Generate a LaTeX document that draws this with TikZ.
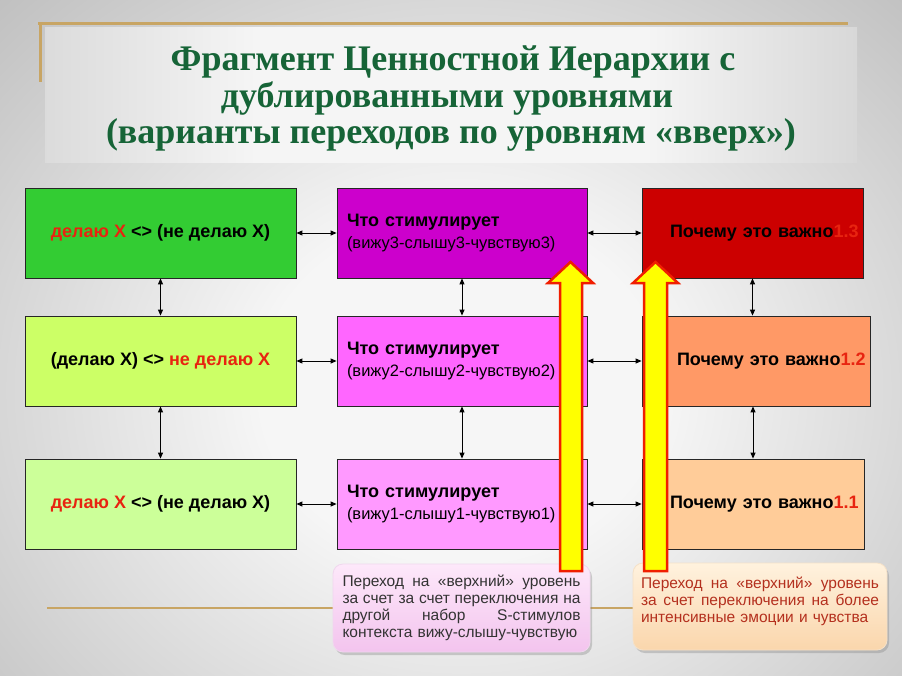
\documentclass[tikz,border=0pt]{standalone}
\usepackage{fontspec}
\setmainfont{Liberation Sans}
\newfontfamily\titlefont{Liberation Serif}
\usetikzlibrary{arrows.meta,shadows}

\definecolor{bgin}{RGB}{246,246,246}
\definecolor{bgout}{RGB}{138,138,138}
\definecolor{bandL}{RGB}{170,170,170}
\definecolor{bandM}{RGB}{245,245,245}
\definecolor{bandR}{RGB}{160,160,160}
\definecolor{gold}{RGB}{200,165,100}
\definecolor{ttlgreen}{RGB}{22,100,55}
\definecolor{txtred}{RGB}{232,36,16}
\definecolor{cLa}{RGB}{51,204,51}
\definecolor{cLb}{RGB}{204,255,102}
\definecolor{cLc}{RGB}{204,255,153}
\definecolor{cMa}{RGB}{204,0,204}
\definecolor{cMb}{RGB}{255,102,255}
\definecolor{cMc}{RGB}{255,153,255}
\definecolor{cRa}{RGB}{204,0,0}
\definecolor{cRb}{RGB}{255,153,102}
\definecolor{cRc}{RGB}{255,204,153}
\definecolor{pinkTop}{RGB}{253,232,250}
\definecolor{pinkBot}{RGB}{243,196,238}
\definecolor{pinkLine}{RGB}{240,215,238}
\definecolor{orTop}{RGB}{255,242,222}
\definecolor{orBot}{RGB}{250,214,172}
\definecolor{orLine}{RGB}{245,225,200}
\definecolor{orText}{RGB}{180,48,30}
\definecolor{arrYel}{RGB}{255,255,0}
\definecolor{arrRed}{RGB}{240,30,0}

\pgfdeclareradialshading{bgsh}{\pgfpoint{0bp}{0bp}}{color(0bp)=(bgin); color(10bp)=(bgin); color(55bp)=(bgout); color(75bp)=(bgout)}
\pgfdeclarehorizontalshading{bandsh}{100bp}{color(0bp)=(bandL); color(38bp)=(bandM); color(62bp)=(bandM); color(100bp)=(bandR)}

\newcommand\rdt[1]{\textcolor{txtred}{#1}}
\def\cw{238pt}
\newcommand\jline[1]{\leavevmode\hbox to \cw{#1}}

\begin{document}
\begin{tikzpicture}[x=1pt,y=-1pt,
  ttl/.style={font=\titlefont\bfseries\fontsize{36}{37}\selectfont, text=ttlgreen, inner sep=0pt},
  box/.style={draw=black!85, line width=0.8pt, minimum height=90pt, inner sep=0pt,
    font=\bfseries\fontsize{18}{22}\selectfont},
  lbox/.style={box, minimum width=271pt},
  mbox/.style={box, minimum width=250pt, text width=230pt, inner xsep=10pt, align=left},
  rbox/.style={box, minimum width=#1, text width=#1, align=left},
  dbl/.style={{Triangle[length=6pt,width=5pt]}-{Triangle[length=6pt,width=5pt]}, line width=1pt, black},
  callout/.style={rounded corners=10pt, line width=0.8pt, text width=\cw, align=left,
    font=\fontsize{15.5}{17}\selectfont,
    drop shadow={opacity=0.35, shadow xshift=2pt, shadow yshift=-3pt}},
  yarrow/.style={fill=arrYel, draw=arrRed, line width=2.5pt, line join=miter}
]
\useasboundingbox (0,0) rectangle (902,675);
\begin{scope}
  \clip (0,0) rectangle (902,675);
  \shade[shading=bgsh] (-40,-40) rectangle (962,820);
\end{scope}

% title band
\shade[shading=bandsh] (45,27) rectangle (857,162);
\draw[gold, line width=3pt] (38,23) -- (848,23);
\draw[gold, line width=3pt] (40,23) -- (40,82);

\node[ttl, anchor=base] (t1) at (453,70) {Фрагмент Ценностной Иерархии с};
\node[ttl, anchor=base] (t2) at (447,107) {дублированными уровнями};
\node[ttl, anchor=base] (t3) at (451,143) {(варианты переходов по уровням «вверх»)};

% bottom gold line
\draw[gold, line width=2.5pt] (47,608) -- (860,608);

% left column
\node[lbox, fill=cLa] (l1) at (160.5,233) {\rdt{делаю Х} <> (не делаю Х)};
\node[lbox, fill=cLb] (l2) at (160.5,361) {(делаю Х) <> \rdt{не делаю Х}};
\node[lbox, fill=cLc] (l3) at (160.5,504) {\rdt{делаю Х} <> (не делаю Х)};

% middle column
\node[mbox, fill=cMa] (m1) at (462,233) {Что стимулирует\\{\mdseries\fontsize{16.5}{18}\selectfont (вижу3-слышу3-чувствую3)}};
\node[mbox, fill=cMb] (m2) at (462,361) {Что стимулирует\\{\mdseries\fontsize{16.5}{18}\selectfont (вижу2-слышу2-чувствую2)}};
\node[mbox, fill=cMc] (m3) at (462,504) {Что стимулирует\\{\mdseries\fontsize{16.5}{18}\selectfont (вижу1-слышу1-чувствую1)}};

% right column
\node[rbox=221pt, fill=cRa] (r1) at (752.5,233) {\hspace*{28pt}Почему это важно\rdt{1.3}};
\node[rbox=228pt, fill=cRb] (r2) at (756,361) {\hspace*{35pt}Почему это важно\rdt{1.2}};
\node[rbox=222pt, fill=cRc] (r3) at (753,504) {\hspace*{28pt}Почему это важно\rdt{1.1}};

% horizontal connectors
\draw[dbl] (l1.east) -- (m1.west);
\draw[dbl] (l2.east) -- (m2.west);
\draw[dbl] (l3.east) -- (m3.west);
\draw[dbl] (m1.east) -- (r1.west);
\draw[dbl] (m2.east) -- (r2.west);
\draw[dbl] (m3.east) -- (r3.west);

% vertical connectors
\draw[dbl] (l1.south) -- (l2.north);
\draw[dbl] (l2.south) -- (l3.north);
\draw[dbl] (m1.south) -- (m2.north);
\draw[dbl] (m2.south) -- (m3.north);
\draw[dbl] (r1.south) -- (r1.south |- r2.north);
\draw[dbl] (r3.north |- r2.south) -- (r3.north);

% callouts
\node[callout, draw=pinkLine, top color=pinkTop, bottom color=pinkBot,
  minimum width=257pt, minimum height=88pt, inner xsep=9.5pt, text=black!80] (c1) at (461.5,608)
  {\jline{Переход\hfill на\hfill «верхний»\hfill уровень}\\
   \jline{за\hfill счет\hfill за\hfill счет\hfill переключения\hfill на}\\
   \jline{другой\hfill набор\hfill S-стимулов}\\
   контекста вижу-слышу-чувствую};
\node[callout, draw=orLine, top color=orTop, bottom color=orBot,
  minimum width=254pt, minimum height=87pt, inner xsep=8pt, text=orText] (c2) at (760,606.5)
  {\jline{Переход\hfill на\hfill «верхний»\hfill уровень}\\
   \jline{за\hfill счет\hfill переключения\hfill на\hfill более}\\
   интенсивные эмоции и чувства\\[-9pt]
   \strut};

% yellow up arrows
\draw[yarrow] (560,571) -- (560,283) -- (548,283) -- (570.5,262) -- (593,283) -- (582,283) -- (582,571) -- cycle;
\draw[yarrow] (644,571) -- (644,283) -- (633,283) -- (655.5,262) -- (678,283) -- (667,283) -- (667,571) -- cycle;
\end{tikzpicture}
\end{document}
